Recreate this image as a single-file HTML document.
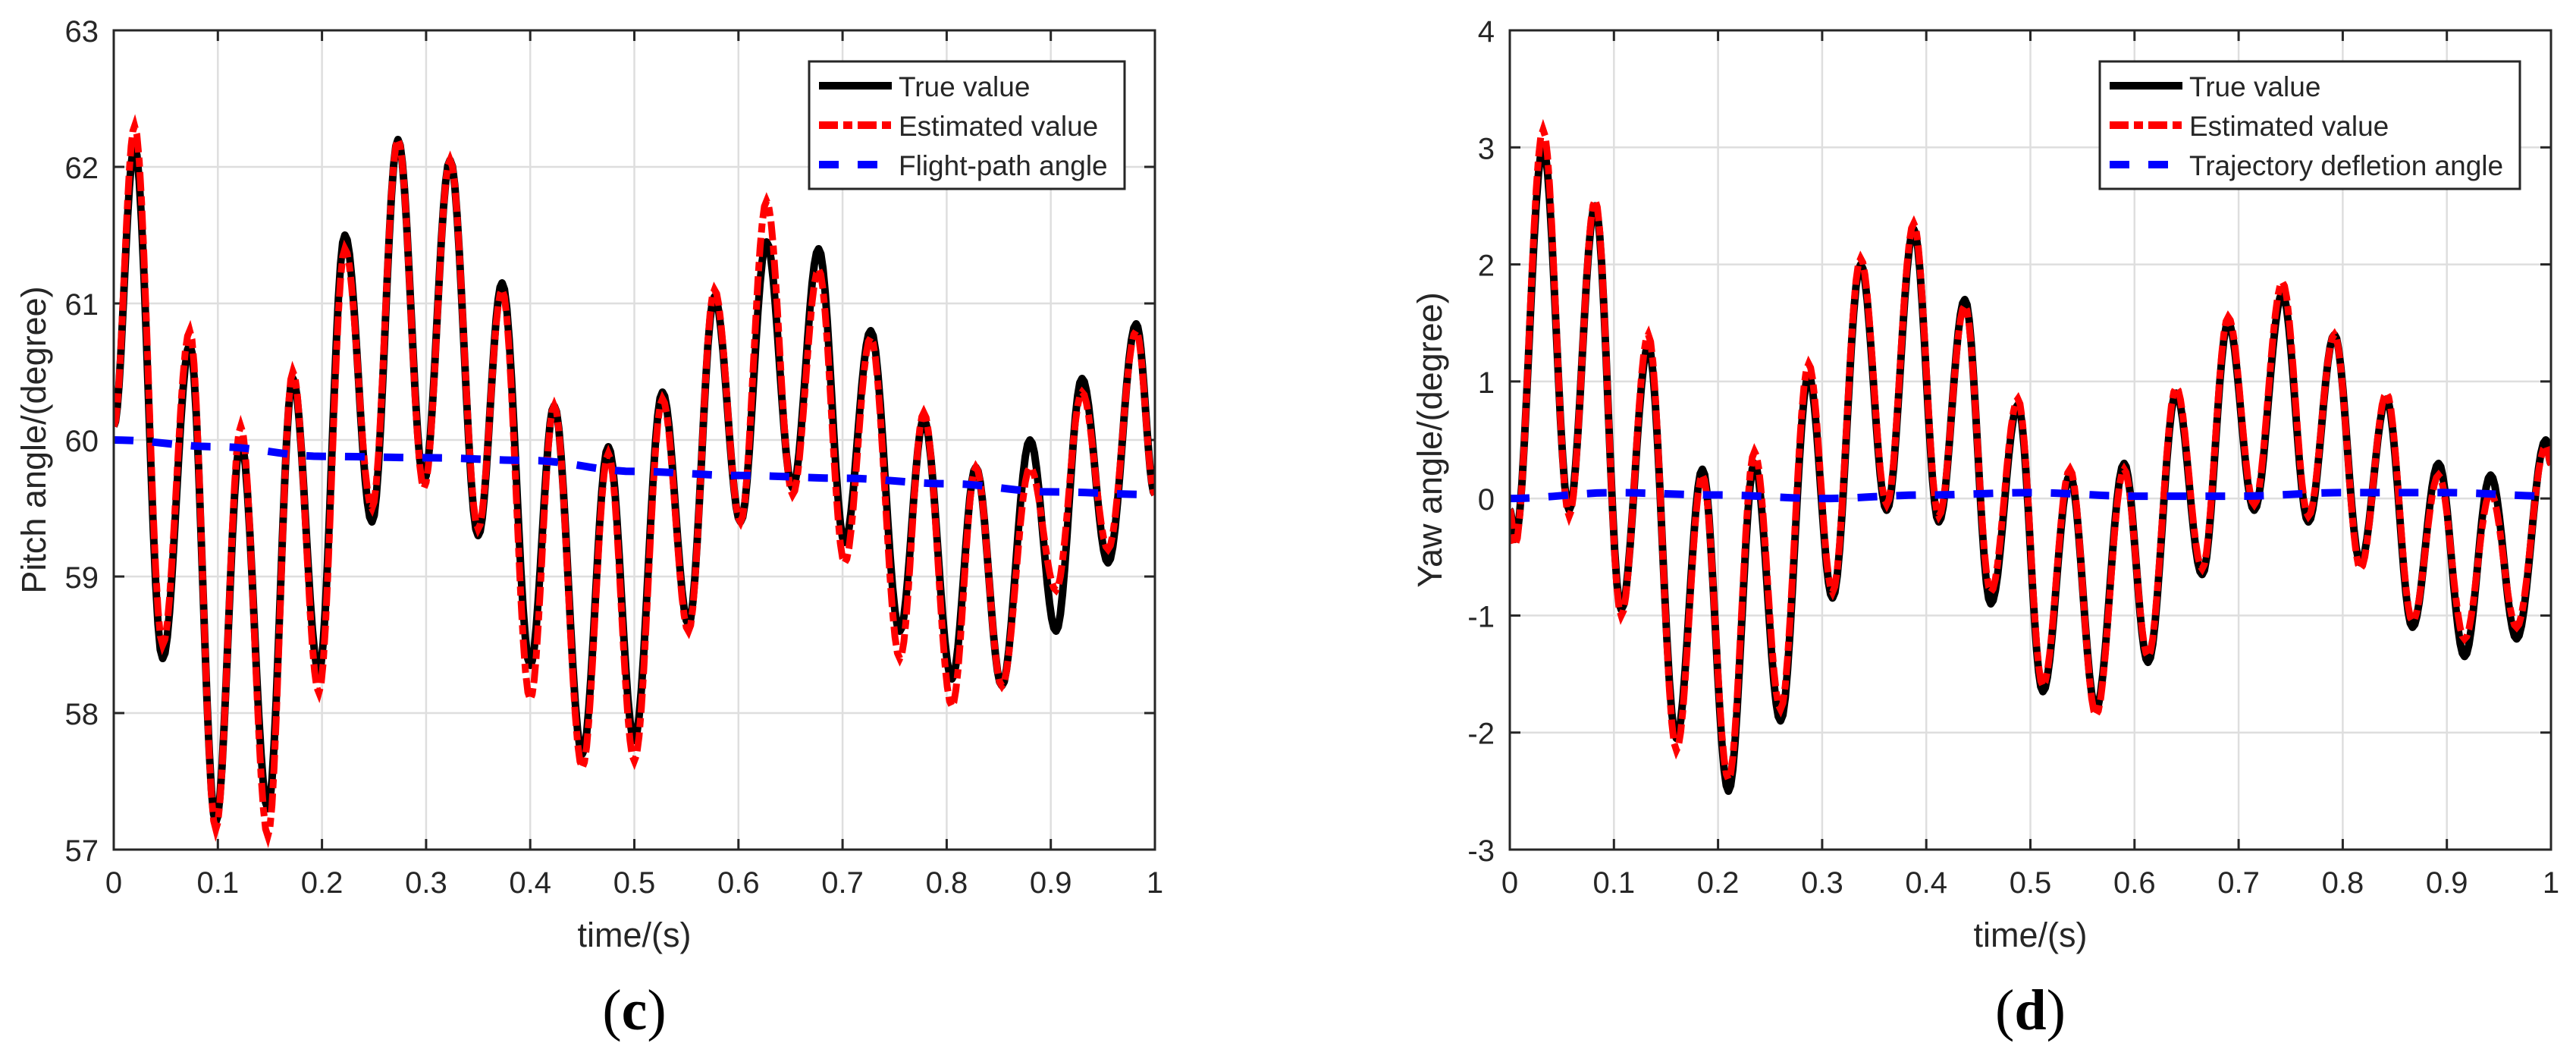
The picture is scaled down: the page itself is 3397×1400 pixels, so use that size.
<!DOCTYPE html>
<html><head><meta charset="utf-8"><style>
html,body{margin:0;padding:0;background:#fff;width:3397px;height:1400px;overflow:hidden}
text{font-family:"Liberation Sans",sans-serif;fill:#262626}
</style></head><body>
<svg id="svg" width="3397" height="1400" xmlns="http://www.w3.org/2000/svg"></svg>
<script>
// ---- Data (panel c: pitch) ----
const pitchTrueT=[0,0.02,0.047,0.073,0.098,0.122,0.148,0.172,0.197,0.222,0.248,0.273,0.298,0.323,0.35,0.373,0.4,0.423,0.45,0.475,0.5,0.527,0.552,0.577,0.602,0.627,0.652,0.677,0.702,0.727,0.755,0.778,0.805,0.828,0.853,0.88,0.905,0.93,0.955,0.982,1];
const pitchTrueV=[60.1,62.15,58.4,60.7,57.2,60.0,57.3,60.45,58.3,61.5,59.4,62.2,59.7,62.05,59.3,61.15,58.35,60.25,57.7,59.95,57.8,60.35,58.65,61.05,59.4,61.45,59.65,61.4,59.25,60.8,58.6,60.15,58.25,59.8,58.2,60.0,58.6,60.45,59.1,60.85,59.6];
const pitchEstV=[60.1,62.3,58.5,60.8,57.15,60.1,57.1,60.5,58.15,61.4,59.5,62.2,59.65,62.05,59.35,61.1,58.1,60.25,57.6,59.9,57.65,60.3,58.6,61.1,59.4,61.75,59.6,61.25,59.1,60.75,58.4,60.2,58.05,59.8,58.2,59.8,58.9,60.35,59.2,60.8,59.6];
const pitchPathT=[0,0.1,0.2,0.3,0.4,0.5,0.6,0.7,0.8,0.9,1];
const pitchPathV=[60.0,59.95,59.88,59.87,59.85,59.77,59.74,59.72,59.68,59.62,59.6];
const pitchTicks=[57,58,59,60,61,62,63];
// ---- Data (panel d: yaw) ----
const yawTrueT=[0,0.005,0.032,0.057,0.082,0.107,0.133,0.16,0.185,0.21,0.235,0.26,0.287,0.31,0.337,0.362,0.388,0.412,0.437,0.462,0.488,0.512,0.538,0.563,0.59,0.613,0.64,0.665,0.69,0.715,0.742,0.767,0.792,0.817,0.842,0.867,0.892,0.917,0.942,0.967,0.995,1];
const yawTrueV=[-0.1,-0.35,3.0,-0.1,2.5,-0.95,1.3,-2.05,0.25,-2.5,0.3,-1.9,1.05,-0.85,2.0,-0.1,2.3,-0.2,1.7,-0.9,0.8,-1.65,0.2,-1.8,0.3,-1.4,0.9,-0.65,1.5,-0.1,1.75,-0.2,1.4,-0.55,0.85,-1.1,0.3,-1.35,0.2,-1.2,0.5,0.3];
const yawEstV=[-0.1,-0.4,3.15,-0.15,2.55,-1.0,1.4,-2.15,0.2,-2.4,0.4,-1.8,1.15,-0.8,2.05,-0.05,2.35,-0.15,1.65,-0.8,0.85,-1.6,0.25,-1.85,0.25,-1.35,0.95,-0.6,1.55,-0.05,1.85,-0.15,1.4,-0.6,0.9,-1.05,0.2,-1.2,0.05,-1.1,0.45,0.3];
const yawPathT=[0,0.1,0.2,0.3,0.4,0.5,0.6,0.7,0.8,0.9,1];
const yawPathV=[0,0.05,0.03,0,0.03,0.05,0.02,0.02,0.05,0.05,0.02];
const yawTicks=[-3,-2,-1,0,1,2,3,4];
const xTicks=[0,0.1,0.2,0.3,0.4,0.5,0.6,0.7,0.8,0.9,1];
const xTickLabels=['0','0.1','0.2','0.3','0.4','0.5','0.6','0.7','0.8','0.9','1'];

const NS='http://www.w3.org/2000/svg';
const svg=document.getElementById('svg');
function mk(tag,attrs,parent){const e=document.createElementNS(NS,tag);for(const k in attrs)e.setAttribute(k,attrs[k]);(parent||svg).appendChild(e);return e;}

function smoothPath(T,V,sx,sy){
  let d='M'+sx(T[0]).toFixed(1)+','+sy(V[0]).toFixed(1);
  for(let i=0;i<T.length-1;i++){
    for(let k=1;k<=12;k++){const s=k/12,w=(1-Math.cos(Math.PI*s))/2;
      const t=T[i]+(T[i+1]-T[i])*s,v=V[i]+(V[i+1]-V[i])*w;
      d+=' L'+sx(t).toFixed(1)+','+sy(v).toFixed(1);}
  }
  return d;
}

function panel(cfg){
  const L=cfg.x0,R=cfg.x0+1373,T=40,B=1120;
  const g=mk('g',{});
  
  
  const ymin=cfg.yt[0],ymax=cfg.yt[cfg.yt.length-1];
  const sx=t=>L+t*(R-L), sy=v=>B-(v-ymin)/(ymax-ymin)*(B-T);
  xTicks.forEach((t,i)=>{
    const gl=mk('line',{x1:sx(t),x2:sx(t),y1:T,y2:B,stroke:'#dedede','stroke-width':2.5},g);
    
    mk('line',{x1:sx(t),x2:sx(t),y1:B,y2:B-14,stroke:'#262626','stroke-width':3},g);
    mk('line',{x1:sx(t),x2:sx(t),y1:T,y2:T+14,stroke:'#262626','stroke-width':3},g);
    const tx=mk('text',{x:sx(t),y:B+57,'font-size':40,'text-anchor':'middle'},g);tx.textContent=xTickLabels[i];
    
  });
  cfg.yt.forEach(v=>{
    const gl=mk('line',{x1:L,x2:R,y1:sy(v),y2:sy(v),stroke:'#dedede','stroke-width':2.5},g);
    
    mk('line',{x1:L,x2:L+14,y1:sy(v),y2:sy(v),stroke:'#262626','stroke-width':3},g);
    mk('line',{x1:R,x2:R-14,y1:sy(v),y2:sy(v),stroke:'#262626','stroke-width':3},g);
    const tx=mk('text',{x:L-20,y:sy(v)+15,'font-size':40,'text-anchor':'end'},g);tx.textContent=String(v);
    
  });
  const clip=mk('clipPath',{id:'c'+cfg.x0},g);mk('rect',{x:L,y:T,width:R-L,height:B-T},clip);
  const lg=mk('g',{'clip-path':'url(#c'+cfg.x0+')'},g);
  const p1=mk('path',{d:smoothPath(cfg.tT,cfg.tV,sx,sy),fill:'none',stroke:'#000','stroke-width':10,'stroke-linejoin':'round'},lg);
  
  const p2=mk('path',{d:smoothPath(cfg.tT,cfg.eV,sx,sy),fill:'none',stroke:'#ff0000','stroke-width':9,'stroke-dasharray':'25 7 12 7'},lg);
  
  const p3=mk('path',{d:smoothPath(cfg.pT,cfg.pV,sx,sy),fill:'none',stroke:'#0000ff','stroke-width':10,'stroke-dasharray':'26 25'},lg);
  
  const box=mk('rect',{x:L,y:T,width:R-L,height:B-T,fill:'none',stroke:'#262626','stroke-width':3},g);
  
  // legend
  const lgd=mk('g',{},g);
  
  const lx=L+cfg.legX;
  mk('rect',{x:lx,y:81,width:cfg.legW,height:168,fill:'#fff',stroke:'#262626','stroke-width':3},lgd);
  const items=[['True value','#000','none',113],['Estimated value','#ff0000','25 7 12 7',165],[cfg.third,'#0000ff','26 25',217]];
  items.forEach(it=>{
    const ln=mk('line',{x1:lx+13,x2:lx+109,y1:it[3],y2:it[3],stroke:it[1],'stroke-width':10,'stroke-dasharray':it[2]},lgd);
    
    const tx=mk('text',{x:lx+118,y:it[3]+14,'font-size':37,fill:'#000'},lgd);tx.textContent=it[0];
    
  });
  const xl=mk('text',{x:(L+R)/2,y:1248,'font-size':45,'text-anchor':'middle'},g);xl.textContent='time/(s)';
  
  const yl=mk('text',{x:0,y:0,'font-size':45,'text-anchor':'middle',transform:'translate('+(L-90)+',580) rotate(-90)'},g);yl.textContent=cfg.ylab;
  
  const cap=mk('text',{x:(L+R)/2,y:1357,'font-size':76,'text-anchor':'middle',style:'font-family:"Liberation Serif",serif;fill:#000'},g);
  const a=mk('tspan',{},cap);a.textContent='(';
  const b=mk('tspan',{'font-weight':'bold'},cap);b.textContent=cfg.cap;
  const c=mk('tspan',{},cap);c.textContent=')';
  
}
panel({name:'pitch-chart',x0:150,yt:pitchTicks,tT:pitchTrueT,tV:pitchTrueV,eV:pitchEstV,pT:pitchPathT,pV:pitchPathV,third:'Flight-path angle',ylab:'Pitch angle/(degree)',cap:'c',legX:917,legW:416});
panel({name:'yaw-chart',x0:1991,yt:yawTicks,tT:yawTrueT,tV:yawTrueV,eV:yawEstV,pT:yawPathT,pV:yawPathV,third:'Trajectory defletion angle',ylab:'Yaw angle/(degree)',cap:'d',legX:778,legW:554});
</script>
</body></html>
